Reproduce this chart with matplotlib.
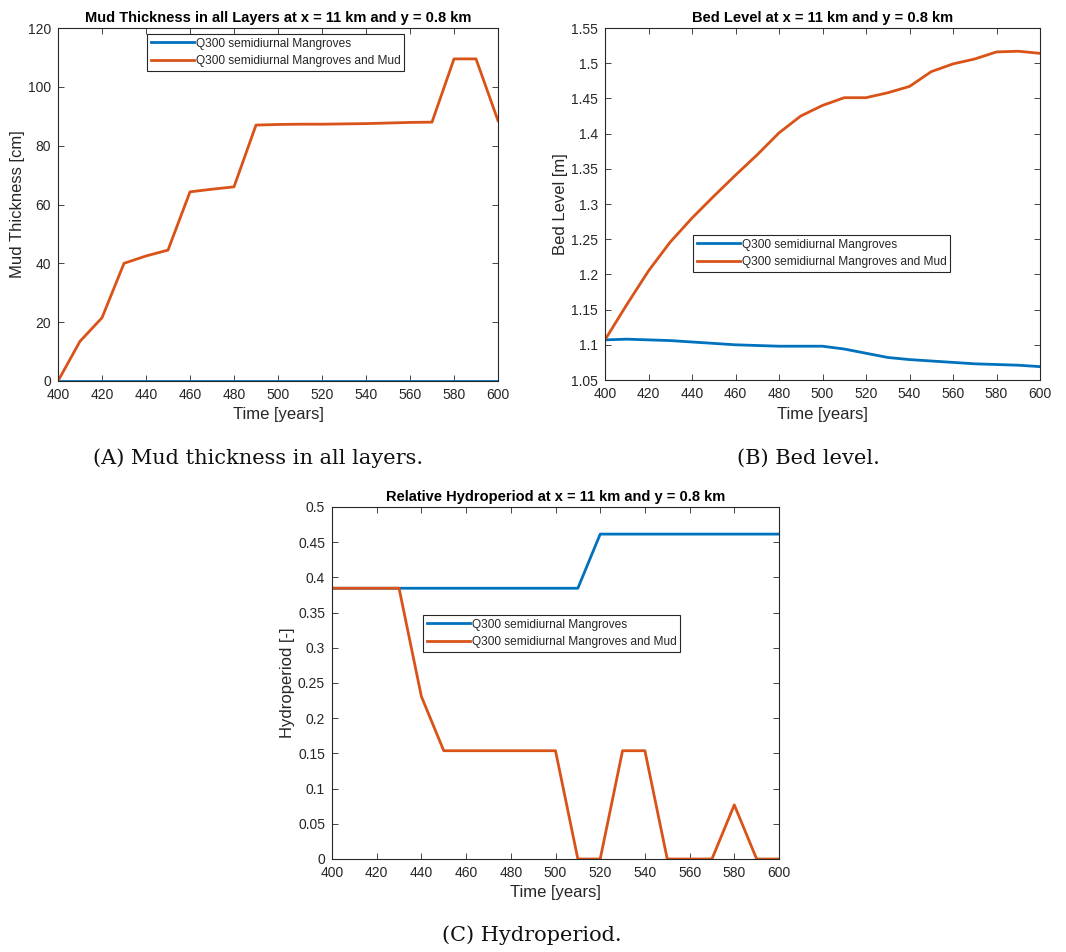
import numpy as np
import matplotlib
matplotlib.use("Agg")
import matplotlib.pyplot as plt

# time axis, shared by all panels
years = [400, 410, 420, 430, 440, 450, 460, 470, 480, 490, 500,
         510, 520, 530, 540, 550, 560, 570, 580, 590, 600]

# (A) mud thickness [cm]
mud_mangroves = [0] * 21
mud_mangroves_mud = [0, 13.5, 21.5, 40, 42.5, 44.5, 64.3, 65.2, 66, 87, 87.2,
                     87.3, 87.3, 87.4, 87.5, 87.7, 87.9, 88, 109.5, 109.5, 88.5]

# (B) bed level [m]
bed_mangroves = [1.107, 1.108, 1.107, 1.106, 1.104, 1.102, 1.100, 1.099, 1.098, 1.098, 1.098,
                 1.094, 1.088, 1.082, 1.079, 1.077, 1.075, 1.073, 1.072, 1.071, 1.069]
bed_mangroves_mud = [1.107, 1.157, 1.205, 1.246, 1.280, 1.311, 1.341, 1.370, 1.401, 1.425, 1.440,
                     1.451, 1.451, 1.458, 1.467, 1.488, 1.499, 1.506, 1.516, 1.517, 1.514]

# (C) relative hydroperiod [-]
hyd_mangroves = [0.3846] * 12 + [0.4615] * 9
hyd_mangroves_mud = [0.3846, 0.3846, 0.3846, 0.3846, 0.2308, 0.1538, 0.1538, 0.1538, 0.1538, 0.1538, 0.1538,
                     0, 0, 0.1538, 0.1538, 0, 0, 0, 0.0769, 0, 0]

labels = ["Q300 semidiurnal Mangroves", "Q300 semidiurnal Mangroves and Mud"]
blue = "#0072BD"
orange = "#D95319"
grey = "#262626"

plt.rcParams['font.family'] = ['Liberation Sans', 'DejaVu Sans']
plt.rcParams['axes.linewidth'] = 0.8

W, H = 1066, 952
fig = plt.figure(figsize=(W / 100, H / 100), dpi=100)


def px_axes(l, t, r, b):
    return fig.add_axes([l / W, 1 - b / H, (r - l) / W, (b - t) / H])


def style(ax, title, ylabel, ylim, yticks, ytl):
    ax.set_xlim(400, 600)
    ax.set_xticks(range(400, 601, 20))
    ax.set_ylim(*ylim)
    ax.set_yticks(yticks)
    ax.set_yticklabels(ytl)
    ax.tick_params(direction='in', top=True, right=True, labelsize=10,
                   colors=grey, length=4, width=0.6, pad=5)
    for s in ax.spines.values():
        s.set_color(grey)
    ax.set_title(title, fontsize=10.5, fontweight='bold', pad=4)
    ax.set_xlabel("Time [years]", fontsize=12, color=grey, labelpad=4)
    ax.set_ylabel(ylabel, fontsize=12, color=grey, labelpad=2)


def legend(ax, l, t):
    leg = ax.legend(labels, loc='upper left', bbox_to_anchor=(l / W, 1 - t / H),
                    bbox_transform=fig.transFigure, fontsize=8.6, frameon=True,
                    fancybox=False, edgecolor=grey, framealpha=1,
                    handlelength=3.6, handletextpad=0.2, borderpad=0.3,
                    labelspacing=0.45, borderaxespad=0)
    leg.get_frame().set_linewidth(0.8)
    for t in leg.get_texts():
        t.set_color(grey)


# panel A
axA = px_axes(58, 28, 498, 381)
axA.plot(years, mud_mangroves, color=blue, lw=2)
axA.plot(years, mud_mangroves_mud, color=orange, lw=2)
style(axA, "Mud Thickness in all Layers at x = 11 km and y = 0.8 km", "Mud Thickness [cm]",
      (0, 120), range(0, 121, 20), [str(v) for v in range(0, 121, 20)])
legend(axA, 147, 34)

# panel B
axB = px_axes(605, 28, 1040, 380)
axB.plot(years, bed_mangroves, color=blue, lw=2)
axB.plot(years, bed_mangroves_mud, color=orange, lw=2)
bt = np.round(np.arange(1.05, 1.551, 0.05), 2)
style(axB, "Bed Level at x = 11 km and y = 0.8 km", "Bed Level [m]",
      (1.05, 1.55), bt, [f"{v:g}" for v in bt])
legend(axB, 693, 235)

# panel C
axC = px_axes(332, 507, 779, 859)
axC.plot(years, hyd_mangroves, color=blue, lw=2)
axC.plot(years, hyd_mangroves_mud, color=orange, lw=2)
ct = np.round(np.arange(0, 0.501, 0.05), 2)
style(axC, "Relative Hydroperiod at x = 11 km and y = 0.8 km", "Hydroperiod [-]",
      (0, 0.5), ct, [f"{v:g}" for v in ct])
legend(axC, 423, 615)

# captions
cap = dict(fontsize=15, family=['DejaVu Serif'], color='#111111', ha='center', va='center')
fig.text(258 / W, 1 - 458 / H, "(A) Mud thickness in all layers.", **cap)
fig.text(808 / W, 1 - 458 / H, "(B) Bed level.", **cap)
fig.text(532 / W, 1 - 935 / H, "(C) Hydroperiod.", **cap)

fig.savefig("out.png", dpi=100)
